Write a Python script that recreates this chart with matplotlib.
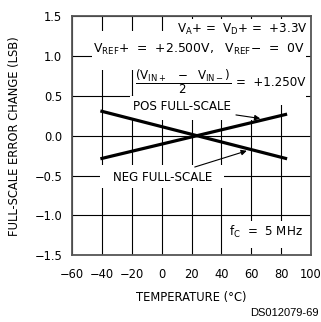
import matplotlib
matplotlib.use("Agg")
import matplotlib.pyplot as plt
from matplotlib.patches import Rectangle

# ---- data ----
temp_pos = [-41, 84]
pos_fs = [-0.29, 0.27]
temp_neg = [-41, 84]
neg_fs = [0.31, -0.29]

xticks = [-60, -40, -20, 0, 20, 40, 60, 80, 100]
yticks = [-1.5, -1.0, -0.5, 0.0, 0.5, 1.0, 1.5]

plt.rcParams['font.family'] = ['DejaVu Sans']
plt.rcParams['mathtext.default'] = 'regular'

fig = plt.figure(figsize=(3.21, 3.22), dpi=100)
W, H = 321, 322
ax = fig.add_axes([72 / W, 1 - 255.3 / H, (311 - 72) / W, (255.3 - 16) / H])
ax.set_xlim(-60, 100)
ax.set_ylim(-1.5, 1.5)
ax.set_xticks(xticks)
ax.set_yticks(yticks)
ax.set_xticklabels([str(t).replace('-', '\u2212') for t in xticks], fontsize=8.3)
ax.set_yticklabels([f"{t:.1f}".replace('-', '\u2212') for t in yticks], fontsize=8.3)
ax.tick_params(length=0, pad=7)
ax.tick_params(axis='x', pad=9)
for s in ax.spines.values():
    s.set_color('#555555')
    s.set_linewidth(1.3)
ax.set_axisbelow(True)
ax.grid(True, color='black', linewidth=0.8)

def px2d(px, py):
    return ((px - 72) / 239 * 160 - 60, 1.5 - (py - 16) / 239.3 * 3)

def mask(x0, y0, x1, y1):
    a = px2d(x0, y1)
    b = px2d(x1, y0)
    ax.add_patch(Rectangle(a, b[0] - a[0], b[1] - a[1], facecolor='white',
                           edgecolor='none', zorder=1))

mask(172, 19, 310, 37)
mask(92, 31, 306, 70)
mask(134, 60, 306, 105)
mask(130, 96, 272, 120)
mask(100, 165, 224, 188)
mask(226, 221, 308, 248)

ax.plot(temp_pos, pos_fs, color='black', linewidth=2.3, solid_capstyle='butt', zorder=2)
ax.plot(temp_neg, neg_fs, color='black', linewidth=2.3, solid_capstyle='butt', zorder=2)

fs = 8.6
ax.text(97.3, 1.337, r"V$_{A}$+ =  V$_{D}$+ =  +3.3V", ha='right', va='center', fontsize=fs, zorder=3)
ax.text(25, 1.075, r"V$_{REF}$+  =  +2.500V,   V$_{REF}$$-$  =  0V", ha='center', va='center', fontsize=8.9, zorder=3)
ax.text(14.5, 0.68, r"$\dfrac{(V_{IN+}\ \ -\ \ V_{IN-})}{2}$", ha='center', va='center', fontsize=fs, zorder=3)
ax.text(96.3, 0.67, "=  +1.250V", ha='right', va='center', fontsize=fs, zorder=3)
ax.text(69.5, -1.208, r"f$_{C}$  =  5 MHz", ha='center', va='center', fontsize=fs, zorder=3)

ax.annotate("POS FULL-SCALE", xy=(66, 0.215), xytext=(13.3, 0.36), ha='center', va='center',
            fontsize=fs, zorder=3,
            arrowprops=dict(arrowstyle='-|>', color='black', lw=0.8, shrinkA=2, shrinkB=0,
                            mutation_scale=8))
ax.annotate("NEG FULL-SCALE", xy=(57, -0.19), xytext=(0.5, -0.52), ha='center', va='center',
            fontsize=fs, zorder=3,
            arrowprops=dict(arrowstyle='-|>', color='black', lw=0.8, shrinkA=2, shrinkB=0,
                            mutation_scale=8))

ax.set_ylabel("FULL-SCALE ERROR CHANGE (LSB)", fontsize=8.3, labelpad=10)
ax.set_xlabel("TEMPERATURE (\u00b0C)", fontsize=8.3, labelpad=7)
fig.text(319 / W, 1 - 313 / H, "DS012079-69", ha='right', va='center',
         fontsize=8, family='Liberation Sans')

fig.savefig("out.png", dpi=100)
